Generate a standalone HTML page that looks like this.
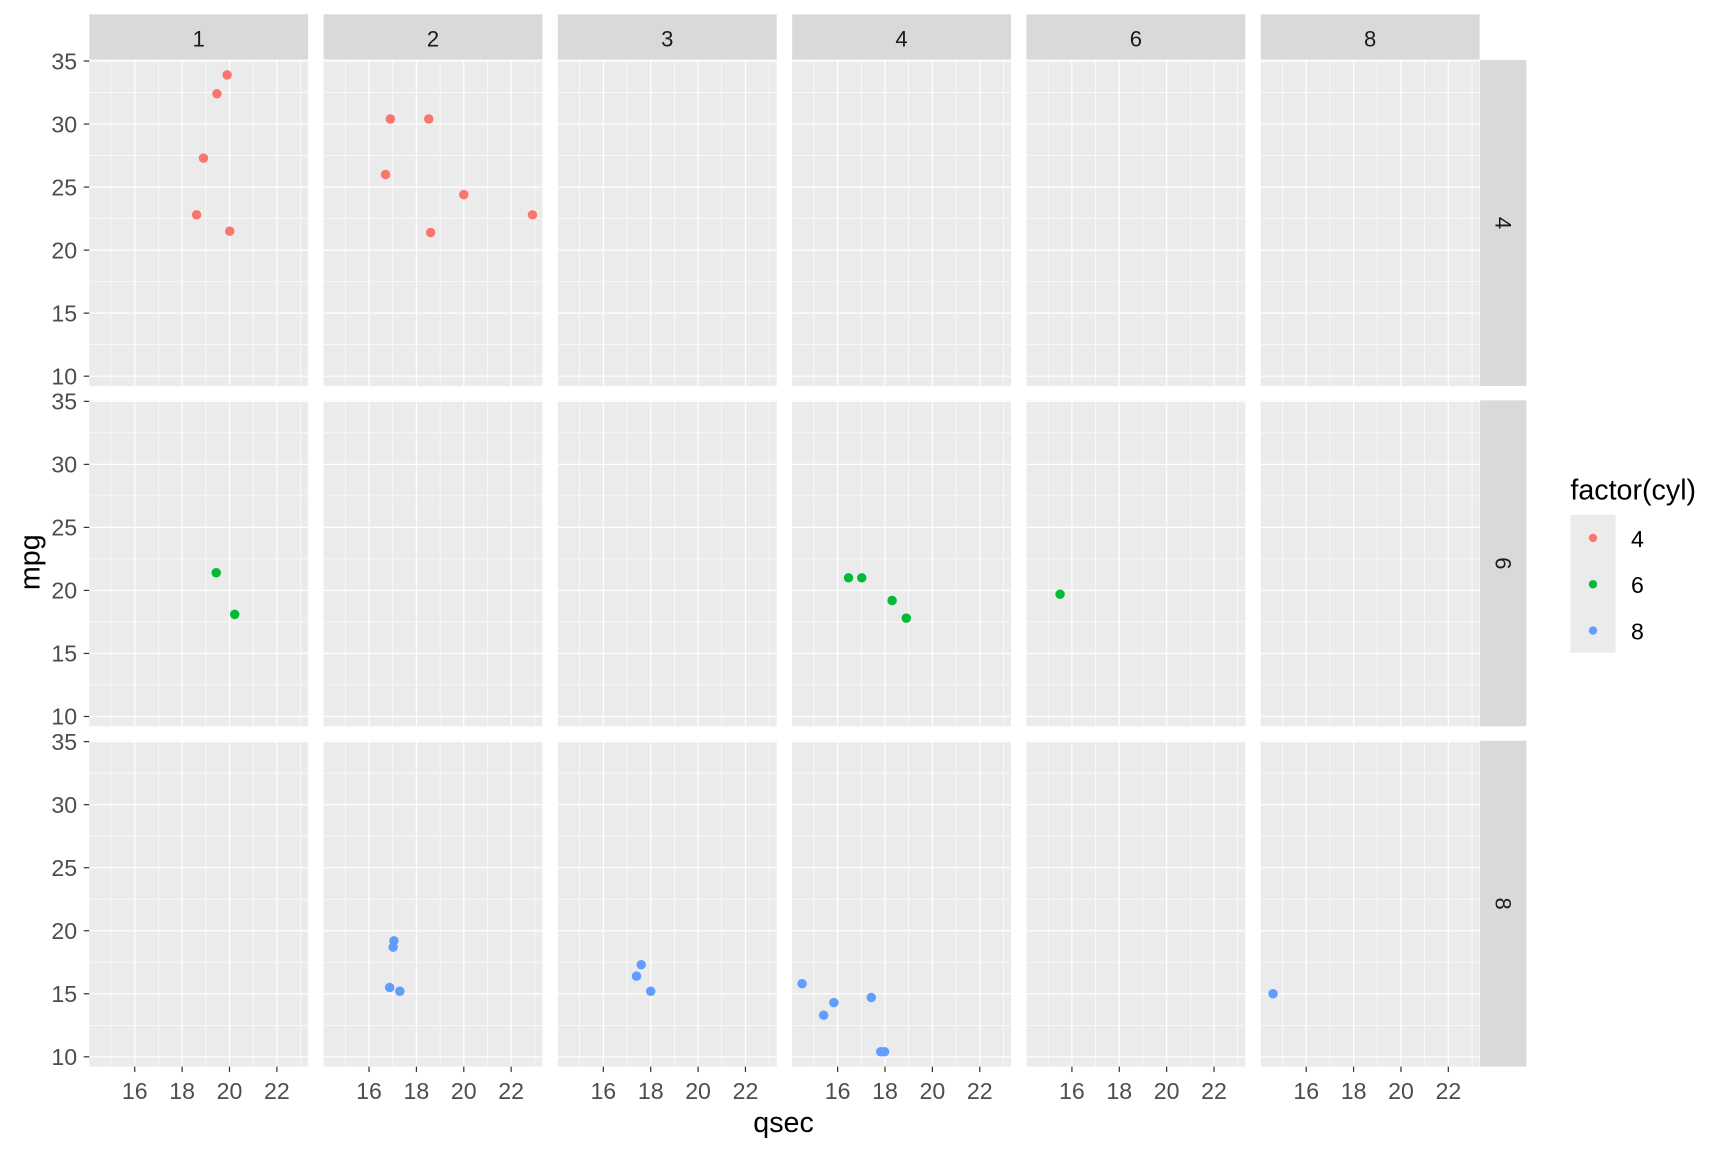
<!DOCTYPE html>
<html><head><meta charset="utf-8"><style>html,body{margin:0;padding:0;background:#fff}svg{display:block}</style></head>
<body>
<svg id="s" width="1728" height="1152" viewBox="0 0 1568 1045" preserveAspectRatio="none" xmlns="http://www.w3.org/2000/svg" font-family="Liberation Sans, Arial, sans-serif"></svg>
<script>
var d=[[21,6,16.46,4],[21,6,17.02,4],[22.8,4,18.61,1],[21.4,6,19.44,1],[18.7,8,17.02,2],[18.1,6,20.22,1],[14.3,8,15.84,4],[24.4,4,20,2],[22.8,4,22.9,2],[19.2,6,18.3,4],[17.8,6,18.9,4],[16.4,8,17.4,3],[17.3,8,17.6,3],[15.2,8,18,3],[10.4,8,17.98,4],[10.4,8,17.82,4],[14.7,8,17.42,4],[32.4,4,19.47,1],[30.4,4,18.52,2],[33.9,4,19.9,1],[21.5,4,20.01,1],[15.5,8,16.87,2],[15.2,8,17.3,2],[13.3,8,15.41,4],[19.2,8,17.05,2],[27.3,4,18.9,1],[26,4,16.7,2],[30.4,4,16.9,2],[15.8,8,14.5,4],[19.7,6,15.5,6],[15,8,14.6,8],[21.4,4,18.6,2]];
var cols=[1,2,3,4,6,8],rows=[4,6,8],col={4:"#F8766D",6:"#00BA38",8:"#619CFF"};
var X0=81,W=198.6,XS=212.6,Y0=54.5,H=295.6,YS=308.7;
var xmin=14.08,xmax=23.32,ymin=9.225,ymax=35.075;
function px(c,v){return X0+c*XS+(v-xmin)/(xmax-xmin)*W}
function py(r,v){return Y0+r*YS+H-(v-ymin)/(ymax-ymin)*H}
var s='';
for(var c=0;c<6;c++){var x=X0+c*XS;
 s+='<rect x="'+x+'" y="13" width="'+W+'" height="41" fill="#D9D9D9"/>';
 s+='<text x="'+(x+W/2)+'" y="42" font-size="20" text-anchor="middle" fill="#1A1A1A">'+cols[c]+'</text>';
 for(var r=0;r<3;r++){var y=Y0+r*YS;
  s+='<rect x="'+x+'" y="'+y+'" width="'+W+'" height="'+H+'" fill="#EBEBEB"/>';
  for(var v=15;v<=23;v+=2)s+='<line x1="'+px(c,v)+'" x2="'+px(c,v)+'" y1="'+y+'" y2="'+(y+H)+'" stroke="#fff" stroke-width="0.55"/>';
  for(var v=12.5;v<=35;v+=5)s+='<line y1="'+py(r,v)+'" y2="'+py(r,v)+'" x1="'+x+'" x2="'+(x+W)+'" stroke="#fff" stroke-width="0.55"/>';
  for(var v=16;v<=22;v+=2)s+='<line x1="'+px(c,v)+'" x2="'+px(c,v)+'" y1="'+y+'" y2="'+(y+H)+'" stroke="#fff" stroke-width="1.1"/>';
  for(var v=10;v<=35;v+=5)s+='<line y1="'+py(r,v)+'" y2="'+py(r,v)+'" x1="'+x+'" x2="'+(x+W)+'" stroke="#fff" stroke-width="1.1"/>';
  d.forEach(function(p){if(p[1]==rows[r]&&p[3]==cols[c])s+='<circle cx="'+px(c,p[2])+'" cy="'+py(r,p[0])+'" r="4.3" fill="'+col[p[1]]+'"/>';});
 }
 for(var v=16;v<=22;v+=2){var xx=px(c,v);s+='<line x1="'+xx+'" x2="'+xx+'" y1="'+(Y0+2*YS+H)+'" y2="'+(Y0+2*YS+H+5)+'" stroke="#333" stroke-width="1.1"/><text x="'+xx+'" y="997" font-size="21" text-anchor="middle" fill="#4D4D4D">'+v+'</text>';}
}
for(var r=0;r<3;r++){var y=Y0+r*YS;
 s+='<rect x="1343" y="'+y+'" width="42" height="'+H+'" fill="#D9D9D9"/>';
 s+='<text transform="translate(1357,'+(y+H/2)+') rotate(90)" font-size="20" text-anchor="middle" fill="#1A1A1A">'+rows[r]+'</text>';
 for(var v=10;v<=35;v+=5){var yy=py(r,v);s+='<line x1="76" x2="81" y1="'+yy+'" y2="'+yy+'" stroke="#333" stroke-width="1.1"/><text x="70" y="'+(yy+7.5)+'" font-size="21" text-anchor="end" fill="#4D4D4D">'+v+'</text>';}
}
s+='<text x="711" y="1027" font-size="26" text-anchor="middle" fill="#000">qsec</text>';
s+='<text transform="translate(36,510) rotate(-90)" font-size="26" text-anchor="middle" fill="#000">mpg</text>';
s+='<text x="1425" y="453" font-size="26" fill="#000">factor(cyl)</text>';
s+='<rect x="1425" y="467" width="41" height="125" fill="#EBEBEB"/>';
[4,6,8].forEach(function(k,i){var yy=488+i*42;s+='<circle cx="1445.5" cy="'+yy+'" r="3.8" fill="'+col[k]+'"/><text x="1480" y="'+(yy+8)+'" font-size="21" fill="#000">'+k+'</text>';});
document.getElementById('s').innerHTML=s;
</script>
</body></html>
